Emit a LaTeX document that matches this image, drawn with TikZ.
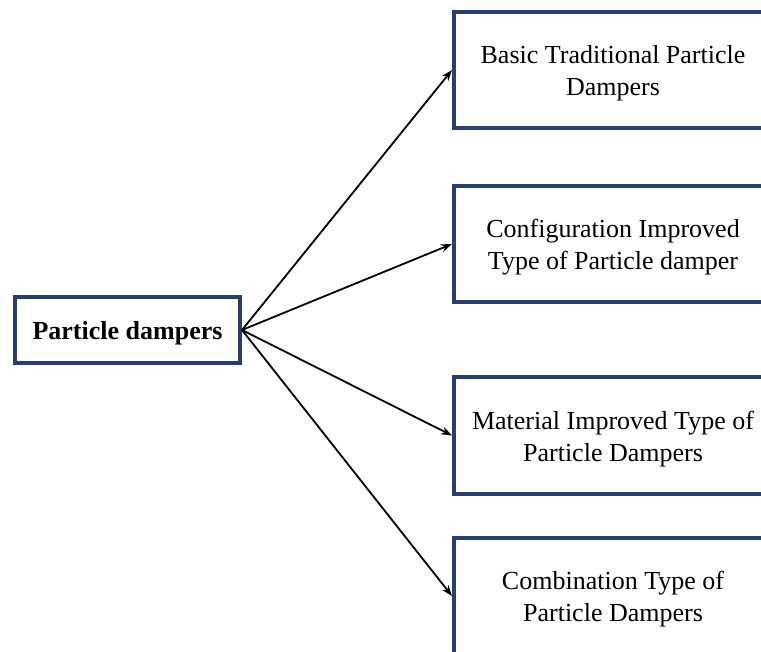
\documentclass[tikz,border=0pt]{standalone}
\usepackage{fontspec}
\setmainfont{Liberation Serif}
\usetikzlibrary{arrows.meta}
\definecolor{navy}{RGB}{40,62,110}
\newcommand{\boxtext}[1]{\raisebox{-3.5pt}[\height][\depth]{\begin{tabular}{@{}c@{}}#1\end{tabular}}}
\begin{document}
\begin{tikzpicture}[x=1pt,y=-1pt,
  box/.style={draw=navy,line width=4pt,fill=white,inner sep=0pt,
    font=\fontsize{26}{32}\selectfont},
  conn/.style={-{Stealth[length=11pt,width=8pt]},line width=1.8pt,black}]
\useasboundingbox (0,0) rectangle (761,652);
\clip (0,0) rectangle (761,652);
\node[box,minimum width=225pt,minimum height=66pt,font=\fontsize{26}{32}\selectfont\bfseries] (root) at (127.5,330) {\boxtext{Particle dampers}};
\node[box,minimum width=318pt,minimum height=116pt] (b1) at (613,70) {\boxtext{Basic Traditional Particle\\Dampers}};
\node[box,minimum width=318pt,minimum height=116pt] (b2) at (613,244) {\boxtext{Configuration Improved\\Type of Particle damper}};
\node[box,minimum width=318pt,minimum height=116pt] (b3) at (613,435.5) {\boxtext{Material Improved Type of\\Particle Dampers}};
\node[box,minimum width=318pt,minimum height=116pt] (b4) at (613,596) {\boxtext{Combination Type of\\Particle Dampers}};
\foreach \t in {b1,b2,b3,b4} \draw[conn] (root.east) -- (\t.west);
\end{tikzpicture}
\end{document}
